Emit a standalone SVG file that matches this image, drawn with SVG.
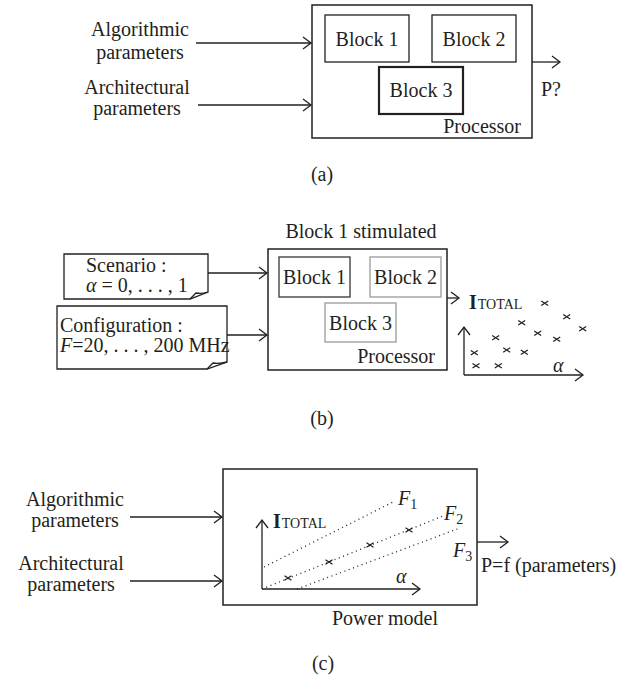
<svg xmlns="http://www.w3.org/2000/svg" xmlns:xlink="http://www.w3.org/1999/xlink" width="639" height="678" viewBox="0 0 639 678">
<style>
text{font-family:"Liberation Serif","Times New Roman",serif;font-size:20px;fill:#231f20}
.it{font-style:italic}
.sc{font-size:14px}
.sub{font-size:14px}
.box{fill:none;stroke:#231f20;stroke-width:1.5}
.blk{fill:none;stroke:#231f20;stroke-width:1.3}
.gray{fill:none;stroke:#9a9a9a;stroke-width:1.3}
.line{fill:none;stroke:#231f20;stroke-width:1.3}
.dot{fill:none;stroke:#231f20;stroke-width:1.3;stroke-dasharray:1 3.6;stroke-linecap:butt}
.note{fill:#fff;stroke:#231f20;stroke-width:1.3}
.cross{fill:none;stroke:#231f20;stroke-width:1.2}
</style>
<defs>
<marker id="ah" markerWidth="12" markerHeight="14" refX="10" refY="7" orient="auto" markerUnits="userSpaceOnUse">
<path d="M2,1 L10,7 L2,13" fill="none" stroke="#231f20" stroke-width="1.3"/>
</marker>
<path id="x" class="cross" d="M-3.5,-2.3 L3.5,2.3 M-3.5,2.3 L3.5,-2.3"/>
</defs>

<!-- (a) -->
<g id="a-alg"><text x="140" y="36" text-anchor="middle">Algorithmic</text><text x="140" y="59" text-anchor="middle">parameters</text></g>
<g id="a-arch"><text x="137" y="94" text-anchor="middle">Architectural</text><text x="137" y="115" text-anchor="middle">parameters</text></g>
<g id="a-proc"><rect class="box" x="312" y="5" width="220" height="133"/><text x="521" y="133" text-anchor="end">Processor</text></g>
<g id="a-b1"><rect class="blk" x="325" y="15" width="84" height="47"/><text x="367" y="46" text-anchor="middle">Block 1</text></g>
<g id="a-b2"><rect class="blk" x="432" y="15" width="84" height="47"/><text x="474" y="46" text-anchor="middle">Block 2</text></g>
<g id="a-b3"><rect fill="none" stroke="#231f20" stroke-width="2.2" x="379" y="67" width="84" height="47"/><text x="421" y="97" text-anchor="middle">Block 3</text></g>
<g id="a-p"><text x="541" y="96">P?</text></g>
<text x="322" y="181" text-anchor="middle">(a)</text>

<!-- (b) -->
<g id="b-title"><text x="361" y="238" text-anchor="middle">Block 1 stimulated</text></g>
<g id="b-scen"><path class="note" d="M64,254 H208 V292 L190,299 H64 Z"/><path class="line" d="M190,299 L196,293 Q202,294 208,292"/><text x="86" y="272">Scenario :</text><text x="86" y="292"><tspan class="it">α</tspan> = 0, . . . , 1</text></g>
<g id="b-conf"><path class="note" d="M57,306 H227 V362 L207,369 H57 Z"/><path class="line" d="M207,369 L213,363 Q219,364 227,362"/><text x="60" y="332">Configuration :</text><text x="60" y="352"><tspan class="it">F</tspan>=20, . . . , 200 MHz</text></g>
<g id="b-proc"><rect class="box" x="268" y="249" width="179" height="121"/><text x="435" y="363" text-anchor="end">Processor</text></g>
<g id="b-b1"><rect fill="none" stroke="#444" stroke-width="1.4" x="279" y="257" width="71" height="40"/><text x="314.5" y="284" text-anchor="middle">Block 1</text></g>
<g id="b-b2"><rect class="gray" x="370" y="257" width="71" height="40"/><text x="405.5" y="284" text-anchor="middle">Block 2</text></g>
<g id="b-b3"><rect class="gray" x="325" y="303" width="71" height="39"/><text x="360.5" y="330" text-anchor="middle">Block 3</text></g>
<g id="b-plot">
<text x="469" y="309"><tspan font-weight="bold">I</tspan><tspan class="sc" dx="1">TOTAL</tspan></text>
<text class="it" x="553" y="372">α</text>
<use xlink:href="#x" x="544.7" y="303.3"/><use xlink:href="#x" x="566.7" y="316.7"/><use xlink:href="#x" x="521.7" y="322.7"/>
<use xlink:href="#x" x="582.7" y="328.7"/><use xlink:href="#x" x="537.7" y="333.3"/><use xlink:href="#x" x="495.7" y="337.7"/>
<use xlink:href="#x" x="556.7" y="339.3"/><use xlink:href="#x" x="506.7" y="350"/><use xlink:href="#x" x="524.3" y="352.3"/>
<use xlink:href="#x" x="474.3" y="352.7"/><use xlink:href="#x" x="476" y="365.7"/><use xlink:href="#x" x="498.3" y="365.7"/>
</g>
<text x="322" y="425" text-anchor="middle">(b)</text>

<!-- (c) -->
<g id="c-alg"><text x="75" y="506" text-anchor="middle">Algorithmic</text><text x="75" y="527" text-anchor="middle">parameters</text></g>
<g id="c-arch"><text x="71" y="570" text-anchor="middle">Architectural</text><text x="71" y="591" text-anchor="middle">parameters</text></g>
<g id="c-model"><rect class="box" x="223" y="469" width="254" height="136"/><text x="385" y="625" text-anchor="middle">Power model</text></g>
<g id="c-plot">
<text x="273" y="528"><tspan font-weight="bold">I</tspan><tspan class="sc" dx="1">TOTAL</tspan></text>
<text class="it" x="396" y="583">α</text>
<path class="dot" d="M264,567 L393,502"/>
<path class="dot" d="M262,589 L443,516"/>
<path class="dot" d="M297,589 L460,528"/>
<text x="398" y="505"><tspan class="it">F</tspan><tspan class="sub" dy="4">1</tspan></text>
<text x="444" y="520"><tspan class="it">F</tspan><tspan class="sub" dy="4">2</tspan></text>
<text x="453" y="557"><tspan class="it">F</tspan><tspan class="sub" dy="4">3</tspan></text>
<use xlink:href="#x" x="288" y="578"/><use xlink:href="#x" x="329" y="562"/><use xlink:href="#x" x="370" y="545"/><use xlink:href="#x" x="409" y="530"/>
</g>
<g id="c-out"><text x="481" y="572">P=f (parameters)</text></g>
<text x="323" y="670" text-anchor="middle">(c)</text>

<g id="connectors">
<path class="line" marker-end="url(#ah)" d="M196,43 H311"/>
<path class="line" marker-end="url(#ah)" d="M198,105 H311"/>
<path class="line" marker-end="url(#ah)" d="M532,62 H560"/>
<path class="line" marker-end="url(#ah)" d="M208,273 H267"/>
<path class="line" marker-end="url(#ah)" d="M227,335 H267"/>
<path class="line" marker-end="url(#ah)" d="M447,298 H459"/>
<path class="line" marker-end="url(#ah)" d="M464,375 V327"/>
<path class="line" marker-end="url(#ah)" d="M464,375 H583"/>
<path class="line" marker-end="url(#ah)" d="M130,517 H222"/>
<path class="line" marker-end="url(#ah)" d="M130,581 H222"/>
<path class="line" marker-end="url(#ah)" d="M262,589 V520"/>
<path class="line" marker-end="url(#ah)" d="M262,589 H420"/>
<path class="line" marker-end="url(#ah)" d="M477,542 H508"/>
</g>
</svg>
